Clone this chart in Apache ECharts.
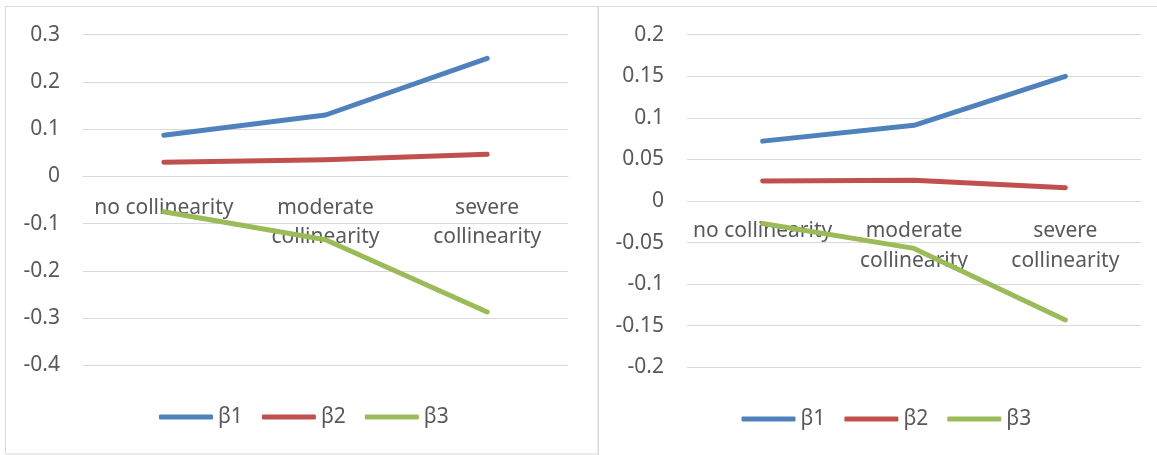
<!DOCTYPE html>
<html><head><meta charset="utf-8">
<script src="https://cdn.jsdelivr.net/npm/echarts@6/dist/echarts.min.js"></script>
<style>html,body{margin:0;padding:0;background:#fff}#c{width:1157px;height:455px}</style>
</head><body><div id="c"></div>
<script>
const categories = ['no collinearity', 'moderate\ncollinearity', 'severe\ncollinearity'];
const seriesNames = ['β1', 'β2', 'β3'];
const leftB1 = [0.087, 0.130, 0.250];
const leftB2 = [0.030, 0.035, 0.047];
const leftB3 = [-0.075, -0.134, -0.287];
const rightB1 = [0.072, 0.091, 0.150];
const rightB2 = [0.024, 0.025, 0.016];
const rightB3 = [-0.027, -0.057, -0.143];
const colors = ['#4F81BD', '#C0504D', '#9BBB59'];

const font = 'Noto Sans';
const txt = '#595959';
const grid = '#D9D9D9';
const fs = 21;

function yAxis(idx, min, max, interval) {
  return {
    type: 'value', gridIndex: idx, min, max, interval,
    axisLine: {show: false}, axisTick: {show: false},
    splitLine: {lineStyle: {color: grid, width: 1}},
    axisLabel: {color: txt, fontFamily: font, fontSize: fs, margin: 23,
      formatter: v => String(parseFloat(v.toFixed(4)))}
  };
}
function xAxis(idx, offset, margin, lh) {
  return {
    type: 'category', gridIndex: idx, data: categories, position: 'bottom', offset,
    axisLine: {show: true, onZero: false, lineStyle: {color: grid, width: 1}},
    axisTick: {show: false},
    axisLabel: {color: txt, fontFamily: font, fontSize: fs, margin, lineHeight: lh, interval: 0}
  };
}
function line(name, data, i, gi) {
  return {
    type: 'line', name, data, xAxisIndex: gi, yAxisIndex: gi,
    symbol: 'none', color: colors[i],
    lineStyle: {color: colors[i], width: 5, cap: 'round', join: 'round'},
    silent: true
  };
}
function legend(left, top) {
  return {
    data: seriesNames, orient: 'horizontal', left, top, padding: 0,
    itemWidth: 54, itemHeight: 5, itemGap: 19, icon: 'roundRect',
    textStyle: {color: txt, fontFamily: font, fontSize: fs, lineHeight: 24},
    selectedMode: false
  };
}
const chart = echarts.init(document.getElementById('c'), null, {renderer: 'canvas'});
chart.setOption({
  animation: false,
  backgroundColor: '#fff',
  graphic: [
    {type: 'rect', shape: {x: 5.5, y: 6.5, width: 592.5, height: 447.5}, style: {fill: 'none', stroke: '#D9D9D9', lineWidth: 1}},
    {type: 'rect', shape: {x: 598.5, y: 6.5, width: 600, height: 460}, style: {fill: 'none', stroke: '#D9D9D9', lineWidth: 1}}
  ],
  grid: [
    {left: 83, right: 1157 - 568, top: 34.7, bottom: 455 - 365.3},
    {left: 687, right: 1157 - 1141, top: 34.7, bottom: 455 - 367.3}
  ],
  xAxis: [xAxis(0, -188.6, 16.5, 29), xAxis(1, -166.3, 15.5, 30)],
  yAxis: [yAxis(0, -0.4, 0.3, 0.1), yAxis(1, -0.2, 0.2, 0.05)],
  legend: [legend(159, 405), legend(741.5, 407)],
  series: [
    line(seriesNames[0], leftB1, 0, 0), line(seriesNames[1], leftB2, 1, 0), line(seriesNames[2], leftB3, 2, 0),
    line(seriesNames[0], rightB1, 0, 1), line(seriesNames[1], rightB2, 1, 1), line(seriesNames[2], rightB3, 2, 1)
  ]
});
</script></body></html>
